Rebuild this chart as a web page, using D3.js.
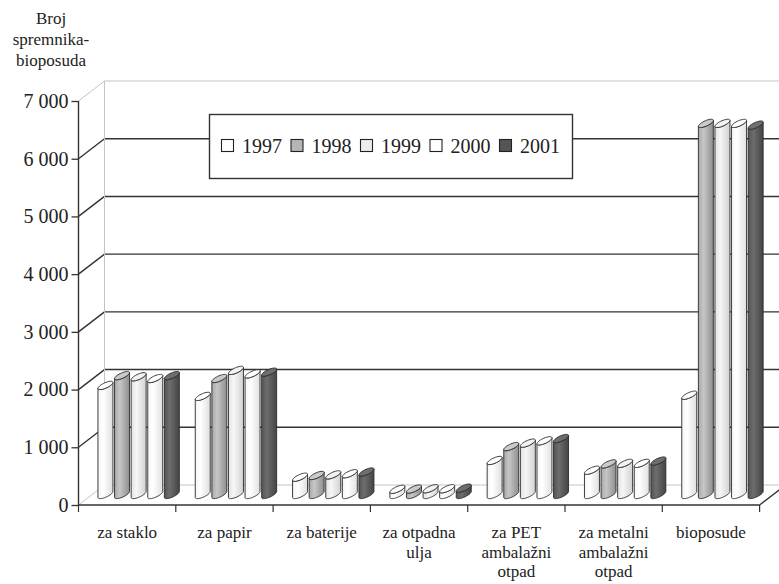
<!DOCTYPE html>
<html>
<head>
<meta charset="utf-8">
<script src="https://cdn.jsdelivr.net/npm/d3@7"></script>
<style>
  body { margin: 0; background: #fff; }
  svg { display: block; }
</style>
</head>
<body>
<svg id="chart" width="779" height="584"></svg>
<script>
// Container counts per category and year
const categories = [
  ["za staklo"],
  ["za papir"],
  ["za baterije"],
  ["za otpadna", "ulja"],
  ["za PET", "ambalažni", "otpad"],
  ["za metalni", "ambalažni", "otpad"],
  ["bioposude"]
];
const years = ["1997", "1998", "1999", "2000", "2001"];
const v1997 = [1890, 1700, 300, 90, 590, 420, 1720];
const v1998 = [2060, 2010, 330, 95, 830, 530, 6430];
const v1999 = [2040, 2150, 340, 100, 890, 540, 6430];
const v2000 = [2010, 2090, 360, 100, 930, 540, 6430];
const v2001 = [2060, 2120, 390, 110, 970, 580, 6400];
const yTicks = [0, 1000, 2000, 3000, 4000, 5000, 6000, 7000];
const yTickLabels = ["0", "1 000", "2 000", "3 000", "4 000", "5 000", "6 000", "7 000"];
const axisTitle = ["Broj", "spremnika-", "bioposuda"];

const series = [v1997, v1998, v1999, v2000, v2001];
const SERIF = "Liberation Serif";
const INK = "#222";

// Look of each year's cylinders: [left shade, mid highlight, right shade, cap]
const shades = [
  ["#f4f4f4", "#ffffff", "#dedede", "#ffffff"],
  ["#a9a9a9", "#c6c6c6", "#8e8e8e", "#c9c9c9"],
  ["#e2e2e2", "#f6f6f6", "#d2d2d2", "#f2f2f2"],
  ["#f6f6f6", "#ffffff", "#e0e0e0", "#ffffff"],
  ["#555555", "#6d6d6d", "#444444", "#6e6e6e"]
];
const legendFill = ["#ffffff", "#b5b5b5", "#ececec", "#ffffff", "#555555"];

const svg = d3.select("#chart");
const defs = svg.append("defs");

// Front plane scales
const x = d3.scaleBand().domain(d3.range(categories.length)).range([78.5, 759.6]);
const xs = d3.scaleBand().domain(years).range([5, 88]);
const y = d3.scaleLinear().domain([0, 7000]).range([505, 101]);

// Oblique depth of the box and of the bar row
const depth = { dx: 26, dy: -20 };
const barF = 0.525;
const bdx = depth.dx * barF, bdy = depth.dy * barF;

const xLeft = x.range()[0], xRight = x.range()[1];
const W = 779;

// Back wall gridlines and side wall diagonals
const g = svg.append("g");
yTicks.forEach((t, i) => {
  const yb = y(t) + depth.dy;
  const light = (i === 0 || i === yTicks.length - 1);
  g.append("line")
    .attr("x1", xLeft + depth.dx).attr("x2", W)
    .attr("y1", yb).attr("y2", yb)
    .attr("stroke", light ? "#c4c4c4" : "#333")
    .attr("stroke-width", light ? 1 : 1.4);
  g.append("line")
    .attr("x1", xLeft).attr("y1", y(t))
    .attr("x2", xLeft + depth.dx).attr("y2", yb)
    .attr("stroke", light ? "#c4c4c4" : "#333")
    .attr("stroke-width", light ? 1 : 1.4);
});
// back wall left edge
g.append("line")
  .attr("x1", xLeft + depth.dx).attr("x2", xLeft + depth.dx)
  .attr("y1", y(7000) + depth.dy).attr("y2", y(0) + depth.dy)
  .attr("stroke", "#c4c4c4").attr("stroke-width", 1);

// Floor right edge
g.append("line")
  .attr("x1", xRight).attr("y1", y(0))
  .attr("x2", xRight + depth.dx).attr("y2", y(0) + depth.dy)
  .attr("stroke", "#333").attr("stroke-width", 1.3);

// Cylinder geometry: cross-section ellipse spanned by a horizontal radius
// and a receding radius along the depth direction
const r = 5.2, rd = 6.8;
const ux = depth.dx / Math.hypot(depth.dx, depth.dy);
const uy = depth.dy / Math.hypot(depth.dx, depth.dy);
const bx = rd * ux, by = rd * uy;
const t0 = Math.atan2(bx, r);
const pt = (cx, cy, t) => [cx + r * Math.cos(t) + bx * Math.sin(t), cy + by * Math.sin(t)];
const arc = (cx, cy, ta, tb, n = 24) => d3.range(n + 1).map(k => pt(cx, cy, ta + (tb - ta) * k / n));
const line = d3.line();

series.forEach((vals, si) => {
  const s = shades[si];
  const grad = defs.append("linearGradient")
    .attr("id", "cyl" + si).attr("x1", 0).attr("x2", 1).attr("y1", 0).attr("y2", 0);
  grad.append("stop").attr("offset", "0%").attr("stop-color", s[0]);
  grad.append("stop").attr("offset", "35%").attr("stop-color", s[1]);
  grad.append("stop").attr("offset", "100%").attr("stop-color", s[2]);
});

const bars = svg.append("g");
categories.forEach((c, ci) => {
  years.forEach((yr, si) => {
    const v = series[si][ci];
    const cx = x(ci) + xs(yr) + xs.bandwidth() / 2 + bdx;
    const yb = y(0) + bdy;
    const yt = y(v) + bdy;
    const body = [
      pt(cx, yt, t0 + Math.PI),
      ...arc(cx, yb, t0 + Math.PI, t0 + 2 * Math.PI),
      ...arc(cx, yt, t0 + 2 * Math.PI, t0 + Math.PI)
    ];
    bars.append("path")
      .attr("d", line(body) + "Z")
      .attr("fill", `url(#cyl${si})`)
      .attr("stroke", "#2a2a2a").attr("stroke-width", 0.9)
      .attr("stroke-linejoin", "round");
    bars.append("path")
      .attr("d", line(arc(cx, yt, 0, 2 * Math.PI, 36)) + "Z")
      .attr("fill", shades[si][3])
      .attr("stroke", "#2a2a2a").attr("stroke-width", 0.9);
  });
});

// Front axes
const axes = svg.append("g");
axes.append("line")
  .attr("x1", xLeft).attr("x2", xLeft).attr("y1", y(7000)).attr("y2", y(0))
  .attr("stroke", "#333").attr("stroke-width", 1.4);
axes.append("line")
  .attr("x1", xLeft).attr("x2", xRight).attr("y1", y(0)).attr("y2", y(0))
  .attr("stroke", "#333").attr("stroke-width", 1.4);

const yAxis = d3.axisLeft(y).tickValues(yTicks)
  .tickFormat((d, i) => yTickLabels[i]).tickSize(7).tickPadding(3);
const ya = svg.append("g").attr("transform", `translate(${xLeft},0)`).call(yAxis);
ya.attr("font-family", SERIF).attr("font-size", 20);
ya.select(".domain").remove();
ya.selectAll(".tick line").attr("stroke", "#333").attr("stroke-width", 1.3);
ya.selectAll(".tick text").attr("fill", INK);

// Category boundary ticks
d3.range(categories.length + 1).forEach(k => {
  const tx = xLeft + k * x.bandwidth();
  axes.append("line")
    .attr("x1", tx).attr("x2", tx).attr("y1", y(0)).attr("y2", y(0) + 7)
    .attr("stroke", "#333").attr("stroke-width", 1.2);
});

// Category labels
categories.forEach((c, ci) => {
  const t = svg.append("text")
    .attr("text-anchor", "middle")
    .attr("x", x(ci) + x.bandwidth() / 2)
    .attr("y", 538)
    .attr("font-family", SERIF)
    .attr("font-size", 17)
    .attr("fill", INK);
  c.forEach((ln, li) => {
    t.append("tspan").attr("x", x(ci) + x.bandwidth() / 2)
      .attr("dy", li === 0 ? 0 : 19.5).text(ln);
  });
});

// Axis title
const title = svg.append("text").attr("text-anchor", "middle").attr("y", 24)
  .attr("font-family", SERIF)
  .attr("font-size", 17)
  .attr("fill", INK);
axisTitle.forEach((ln, li) => {
  title.append("tspan").attr("x", 51).attr("dy", li === 0 ? 0 : 21).text(ln);
});

// Legend
const lg = svg.append("g");
const box = lg.append("rect")
  .attr("x", 209.5).attr("y", 114.5).attr("height", 64)
  .attr("fill", "#fff").attr("stroke", "#333").attr("stroke-width", 1.4);
let lx = 221;
years.forEach((yr, si) => {
  lg.append("rect")
    .attr("x", lx + 0.5).attr("y", 139.5).attr("width", 12).attr("height", 12)
    .attr("fill", legendFill[si]).attr("stroke", "#222").attr("stroke-width", 1.1);
  const t = lg.append("text").attr("x", lx + 21).attr("y", 153)
    .attr("font-family", SERIF)
    .attr("font-size", 20)
    .attr("fill", INK).text(yr);
  lx = lx + 21 + t.node().getComputedTextLength() + 8.5;
});
box.attr("width", lx - 209.5 + 4);
</script>
</body>
</html>
